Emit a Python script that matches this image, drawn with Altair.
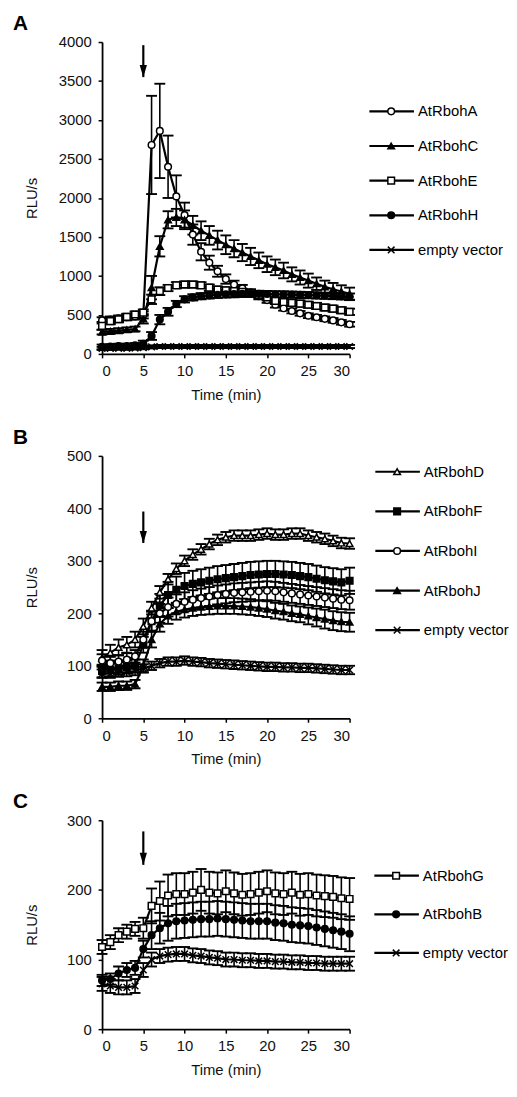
import altair as alt
import pandas as pd

TIME = list(range(31))
X_TICKS = [0, 5, 10, 15, 20, 25, 30]

# ---------------- Panel A ----------------
A_NAMES = ["AtRbohA", "AtRbohC", "AtRbohE", "AtRbohH", "empty vector"]
A_RBOHA = [430, 440, 455, 470, 480, 500, 2680, 2860, 2400, 2020, 1780, 1530, 1310, 1170, 1060, 960,
           890, 840, 790, 740, 690, 630, 585, 550, 520, 490, 470, 450, 430, 405, 380]
A_RBOHA_ERR = [40, 40, 40, 40, 40, 45, 630, 605, 400, 270, 160, 130, 110, 90, 70, 60,
               50, 45, 40, 40, 35, 35, 30, 30, 30, 30, 30, 30, 30, 30, 30]
A_RBOHC = [280, 290, 300, 310, 320, 450, 850, 1380, 1720, 1750, 1720, 1650, 1580, 1520, 1460, 1400,
           1350, 1300, 1250, 1200, 1150, 1110, 1070, 1020, 980, 940, 900, 860, 830, 800, 770]
A_RBOHC_ERR = [30, 30, 30, 30, 30, 60, 150, 130, 110, 110, 120, 120, 120, 120, 120, 120,
               110, 110, 110, 100, 100, 100, 100, 90, 90, 90, 80, 80, 80, 80, 80]
A_RBOHE = [360, 420, 445, 475, 505, 530, 700, 805, 845, 880, 890, 890, 880, 850, 825, 815,
           805, 795, 780, 755, 725, 680, 665, 655, 645, 630, 615, 595, 580, 560, 540]
A_RBOHE_ERR = [50, 40, 40, 40, 40, 40, 60, 50, 40, 40, 40, 40, 40, 40, 40, 40,
               40, 40, 40, 40, 40, 40, 40, 40, 40, 40, 40, 40, 40, 40, 40]
A_RBOHH = [90, 95, 100, 100, 110, 130, 230, 440, 540, 640, 700, 725, 740, 750, 758, 763,
           767, 770, 770, 770, 768, 765, 763, 760, 757, 754, 750, 746, 742, 738, 735]
A_RBOHH_ERR = [30, 30, 30, 30, 30, 40, 50, 60, 50, 40, 40, 40, 40, 40, 40, 40,
               40, 40, 40, 40, 40, 40, 40, 40, 40, 40, 40, 40, 40, 40, 40]
A_EMPTY = [70, 70, 72, 72, 75, 80, 90, 95, 95, 95, 95, 95, 95, 95, 95, 95,
           95, 95, 95, 95, 95, 95, 95, 95, 95, 95, 95, 95, 95, 95, 95]
A_EMPTY_ERR = [20] * 31

# ---------------- Panel B ----------------
B_NAMES = ["AtRbohD", "AtRbohF", "AtRbohI", "AtRbohJ", "empty vector"]
B_RBOHD = [115, 125, 135, 140, 150, 175, 210, 240, 265, 285, 300, 312, 322, 332, 340, 345,
           348, 348, 348, 350, 352, 350, 350, 352, 352, 348, 345, 342, 338, 334, 333]
B_RBOHD_ERR = [15, 15, 15, 15, 15, 15, 12, 12, 10, 10, 10, 10, 10, 10, 10, 10,
               10, 10, 10, 10, 10, 10, 10, 10, 10, 10, 10, 10, 10, 10, 10]
B_RBOHF = [90, 92, 95, 98, 100, 140, 185, 215, 235, 245, 252, 256, 259, 262, 265, 267,
           269, 271, 273, 274, 275, 275, 274, 273, 271, 269, 266, 263, 261, 259, 262]
B_RBOHF_ERR = [12, 12, 12, 12, 12, 15, 20, 22, 25, 25, 25, 25, 25, 25, 25, 25,
               25, 25, 25, 25, 25, 25, 25, 25, 25, 25, 25, 25, 25, 25, 25]
B_RBOHI = [110, 105, 108, 112, 118, 150, 185, 200, 212, 218, 222, 226, 229, 232, 235, 237,
           239, 240, 241, 242, 243, 242, 240, 238, 236, 234, 232, 230, 228, 226, 225]
B_RBOHI_ERR = [12, 12, 12, 12, 12, 15, 18, 18, 18, 18, 18, 18, 18, 18, 18, 18,
               18, 18, 18, 18, 18, 18, 18, 18, 18, 18, 18, 18, 18, 18, 18]
B_RBOHJ = [60, 60, 62, 62, 65, 100, 150, 180, 195, 203, 207, 210, 212, 213, 214, 214,
           214, 213, 212, 210, 208, 205, 203, 200, 198, 195, 192, 189, 186, 184, 183]
B_RBOHJ_ERR = [8, 8, 8, 8, 8, 12, 15, 15, 15, 15, 15, 15, 15, 15, 15, 15,
               15, 15, 15, 15, 15, 15, 15, 15, 15, 16, 17, 18, 18, 18, 18]
B_EMPTY = [85, 85, 87, 88, 90, 95, 100, 105, 108, 108, 110, 108, 107, 105, 104, 103,
           102, 101, 100, 99, 98, 98, 97, 97, 96, 96, 95, 94, 93, 92, 92]
B_EMPTY_ERR = [8] * 31

# ---------------- Panel C ----------------
C_NAMES = ["AtRbohG", "AtRbohB", "empty vector"]
C_RBOHG = [118, 125, 135, 140, 144, 145, 177, 184, 192, 194, 194, 196, 200, 196, 195, 198,
           195, 193, 194, 196, 198, 195, 194, 196, 193, 194, 192, 191, 190, 188, 187]
C_RBOHG_ERR = [10, 10, 10, 10, 10, 15, 25, 28, 30, 30, 30, 30, 30, 30, 30, 30,
               30, 30, 30, 30, 30, 30, 30, 30, 30, 30, 30, 30, 30, 30, 30]
C_RBOHB = [70, 72, 80, 85, 88, 115, 135, 145, 152, 155, 156, 157, 158, 158, 159, 158,
           157, 156, 155, 155, 155, 153, 152, 150, 149, 148, 146, 144, 142, 140, 137]
C_RBOHB_ERR = [8, 8, 10, 10, 10, 12, 20, 22, 25, 25, 25, 25, 25, 25, 25, 25,
               25, 25, 25, 25, 25, 25, 25, 25, 25, 25, 25, 25, 25, 25, 25]
C_EMPTY = [65, 62, 60, 60, 62, 85, 100, 105, 107, 108, 108, 106, 105, 103, 102, 100,
           100, 99, 99, 98, 98, 97, 97, 96, 96, 95, 95, 94, 94, 94, 94]
C_EMPTY_ERR = [10] * 31

# arrows (elicitor addition at 5 min)
ARROW_T = [5]
A_ARROW = (3960, 3550)
B_ARROW = (394, 334)
C_ARROW = (284, 236)

X_SHAPE = "M-1,-1L1,1M-1,1L1,-1"
HEAD_SHAPE = "M-0.6,-1L0.6,-1L0,1Z"
FONT = "Liberation Sans"


def panel(letter, names, vals, errs, shapes, fills, ymax, ystep, height,
          leg_range, leg_x, arrow):
    rows = []
    for n, vs, es in zip(names, vals, errs):
        for t, v, e in zip(TIME, vs, es):
            rows.append({"series": n, "t": t, "v": v, "lo": v - e, "hi": v + e})
    df = pd.DataFrame(rows)

    xscale = alt.Scale(domain=[0, 30], nice=False, zero=False)
    xaxis = alt.Axis(values=X_TICKS, title="Time (min)", labelPadding=6, titlePadding=9)
    yscale = alt.Scale(domain=[0, ymax], nice=False)
    yaxis = alt.Axis(values=list(range(0, ymax + 1, ystep)), title="RLU/s", format="d",
                     titleX=-63, labelPadding=7)

    def X(f):
        return alt.X(f, type="quantitative", scale=xscale, axis=xaxis)

    def Y(f):
        return alt.Y(f, type="quantitative", scale=yscale, axis=yaxis)

    shape_enc = alt.Shape("series:N", scale=alt.Scale(domain=names, range=shapes), legend=None)
    fill_enc = alt.Fill("series:N", scale=alt.Scale(domain=names, range=fills), legend=None)

    base = alt.Chart(df)
    bars = base.mark_rule(color="black", strokeWidth=1.6).encode(x=X("t"), y=Y("lo"), y2="hi")
    cap_lo = base.mark_tick(orient="horizontal", color="black", size=11, thickness=1.9,
                            opacity=1).encode(x=X("t"), y=Y("lo"))
    cap_hi = base.mark_tick(orient="horizontal", color="black", size=11, thickness=1.9,
                            opacity=1).encode(x=X("t"), y=Y("hi"))
    lines = base.mark_line(color="black", strokeWidth=2.2).encode(
        x=X("t"), y=Y("v"), detail="series:N")
    pts = base.mark_point(opacity=1, stroke="black", strokeWidth=1.5, size=45).encode(
        x=X("t"), y=Y("v"), shape=shape_enc, fill=fill_enc)

    adf = pd.DataFrame({"t": ARROW_T, "top": [arrow[0]], "tip": [arrow[1]]})
    arr = alt.Chart(adf).mark_rule(color="black", strokeWidth=2.2).encode(
        x=X("t"), y=Y("top"), y2="tip")
    head = alt.Chart(adf).mark_point(shape=HEAD_SHAPE, filled=True, color="black", opacity=1,
                                     size=150, yOffset=-6).encode(x=X("t"), y=Y("tip"))

    plot = alt.layer(bars, cap_lo, cap_hi, lines, pts, arr, head)

    ldf = pd.DataFrame({"series": names})
    ly = alt.Y("series:N", scale=alt.Scale(type="point", domain=names, range=leg_range, padding=0),
               axis=None)
    lbase = alt.Chart(ldf)
    l_line = lbase.mark_rule(color="black", strokeWidth=2.2).encode(
        x=alt.value(leg_x), x2=alt.value(leg_x + 45), y=ly)
    l_pt = lbase.mark_point(opacity=1, stroke="black", strokeWidth=1.5, size=45).encode(
        x=alt.value(leg_x + 22), y=ly, shape=shape_enc, fill=fill_enc)
    l_txt = lbase.mark_text(align="left", baseline="middle", fontSize=15, font=FONT,
                            color="black").encode(x=alt.value(leg_x + 49), y=ly, text="series:N")
    legend = alt.layer(l_line, l_pt, l_txt)

    return alt.layer(plot, legend).resolve_scale(y="independent").properties(
        width=250, height=height,
        title=alt.TitleParams(letter, anchor="start", fontSize=21, fontWeight="bold",
                              font=FONT, color="black", offset=1, dx=-12))


pA = panel("A", A_NAMES,
           [A_RBOHA, A_RBOHC, A_RBOHE, A_RBOHH, A_EMPTY],
           [A_RBOHA_ERR, A_RBOHC_ERR, A_RBOHE_ERR, A_RBOHH_ERR, A_EMPTY_ERR],
           ["circle", "triangle-up", "square", "circle", X_SHAPE],
           ["white", "black", "white", "black", "black"],
           4000, 500, 315, [70, 210], 270, A_ARROW)
pB = panel("B", B_NAMES,
           [B_RBOHD, B_RBOHF, B_RBOHI, B_RBOHJ, B_EMPTY],
           [B_RBOHD_ERR, B_RBOHF_ERR, B_RBOHI_ERR, B_RBOHJ_ERR, B_EMPTY_ERR],
           ["triangle-up", "square", "circle", "triangle-up", X_SHAPE],
           ["white", "black", "white", "black", "black"],
           500, 100, 265, [16, 176], 276, B_ARROW)
pC = panel("C", C_NAMES,
           [C_RBOHG, C_RBOHB, C_EMPTY],
           [C_RBOHG_ERR, C_RBOHB_ERR, C_EMPTY_ERR],
           ["square", "circle", X_SHAPE],
           ["white", "black", "black"],
           300, 100, 211, [56, 134], 275, C_ARROW)

chart = alt.vconcat(pA, pB, pC, spacing=103, bounds="flush").resolve_scale(
    shape="independent", fill="independent"
).properties(
    padding={"left": 5, "top": 0, "right": 0, "bottom": 0}
).configure_view(stroke=None).configure_axis(
    grid=False, domainColor="black", domainWidth=1.8, tickColor="black", tickWidth=1.5,
    tickSize=4, labelFontSize=15, labelFont=FONT, labelColor="#111",
    titleFontSize=15, titleFont=FONT, titleFontWeight="normal", titleColor="#111"
)

chart.save("out.html", embed_options={"renderer": "svg", "actions": False})
